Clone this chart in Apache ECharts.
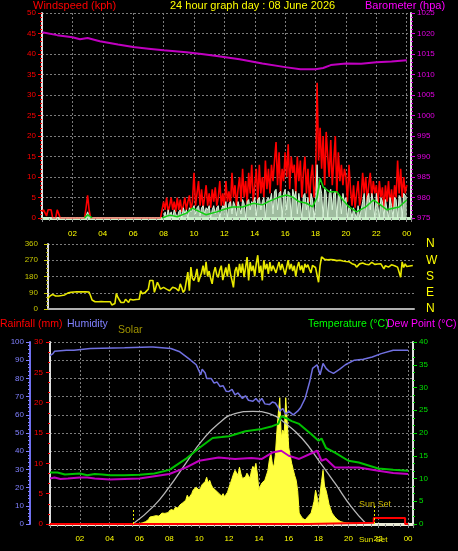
<!DOCTYPE html>
<html><head><meta charset="utf-8">
<script src="https://cdn.jsdelivr.net/npm/echarts@6/dist/echarts.min.js"></script>
<style>html,body{margin:0;padding:0;background:#000;}#c{width:458px;height:551px;}</style>
</head><body><div id="c"></div>
<script>
// ---------- data ----------
const titleText = '24 hour graph day : 08 June 2026';
const hourTicks = [2,4,6,8,10,12,14,16,18,20,22,24];
const hourLabels = ['02','04','06','08','10','12','14','16','18','20','22','00'];
const compassTicks = [0,90,180,270,360];
const compassLabels = ['N','E','S','W','N'];
const sampleStep = 0.1; // hours between samples of the sampled series

// wind gust (kph), every 0.1 h from 00:00
const gust = [
 1.5,2,2,0.5,2,2,2,0,0,0,
 2,1,0,0,0,0,0,0,0,0,
 0,0,0,0,0,0,0,0,0,2.5,
 5.5,2,0,0,0,0,0,0,0,0,
 0,0,0,0,0,0,0,0,0,0,
 0,0,0,0,0,0,0,0,0,0,
 0,0,0,0,0,0,0,0,0,0,
 0,0,0,0,0,0,0,0,0,2,
 4,2,5,1.5,3,5,2,4,1.5,5,
 2,4.5,1.5,3,5,2,4,5.5,2,4,
 11,3,6,9,3,7,2.5,5,8,3,
 6,2.5,7,4,7.5,3,5,9,3,6,
 2.5,9,4,6.5,3,11,5,8,3,7,
 10,4,12,5,9,3.5,11,6,13,4,
 8,12,4,13,6,10,5,14,7,12,
 6,13,9,14,18.5,8,16,6,12,9,
 16,10,18,7,15,11,13,6,15,9,
 14,5,11,15,6,12,4,10,13,5,
 8,33,14,22,12,20,8,21,15,10,
 19,8,14,20,6,16,9,13,8,12,
 10,4,13,7,3,8,2.5,6,9,3,
 5,11,6,10,4,8,11,5,9,6,
 8,3,9,5,7.5,2,8,4,9,3,
 7,2.5,8,5,14,6,12,5,10,6,
 8
];
// wind speed (kph), every 0.1 h from 00:00
const windSpeed = [
 0,0,0,0,0,0,0,0,0,0,
 0,0,0,0,0,0,0,0,0,0,
 0,0,0,0,0,0,0,0,0,0.5,
 1.5,0.5,0,0,0,0,0,0,0,0,
 0,0,0,0,0,0,0,0,0,0,
 0,0,0,0,0,0,0,0,0,0,
 0,0,0,0,0,0,0,0,0,0,
 0,0,0,0,0,0,0,0,0,0,
 0,1.5,0,2,0.5,1.5,0,2,1,0,
 1.5,2,0,2.5,1,2,0,2.5,1.5,2,
 3,1,2.5,3,0.5,2.5,3,1,2.5,2,
 3,0,2,3,1,2.5,3,0,2,3,
 2.5,4,0,3.5,4,1,4,3,0.5,4,
 4,1,4.5,3.5,0,4,4.5,2,4,3.5,
 5,0.5,4.5,5,2,4,5,0,4.5,5,
 4,6,1,6.5,7,2,6,6.5,0,6,
 7,2,6.5,6,0,7,5,6.5,1,6,
 6,0,5.5,6,2,5,0,6,4.5,0,
 3,13,4,8,6,0,7.5,6,0,6,
 7,2,6,6.5,0,6,5,1,6,4,
 5,0,3,2,0,2.5,1,0,3,0,
 2,4,6,0,5,6,2,6,4,0,
 6,3,0,5,4,0,4.5,2,0,5,
 3,0,5,4.5,0,5.5,5,0,6,5.5,
 5
];
// average wind speed (kph)
const windAvgTimes  = [2.8,3.0,3.3,5.0,7.9,8.4,8.9,9.5,9.9,10.4,10.8,11.5,11.9,12.5,13.2,13.9,14.5,14.9,15.6,16.1,16.5,16.9,17.4,17.8,18.1,18.3,18.5,18.9,19.4,19.8,20.2,20.7,21.3,21.8,22.2,22.7,23.1,23.5,24.0];
const windAvgValues = [0,0.8,0,null,0,0.7,0.3,1.2,2.4,1.5,0.8,1.5,2,2.7,2.7,3.6,3.2,4,5.1,5.6,5.1,4,3.6,2.7,5,9.7,7.6,6.4,6.4,4.4,2.7,1.5,2.7,4.4,3.4,2,2.4,2.7,4.4];
// barometer (hPa)
const baroTimes  = [0,1,2,2.5,3,3.8,5,6,7,8,9.5,10.5,11.5,13,14.5,16,17,18,18.5,19,20,21,22,23,24];
const baroValues = [1020.3,1019.6,1019.1,1018.6,1018.9,1018.1,1017.3,1016.7,1016.3,1015.9,1015.4,1015.0,1014.5,1013.7,1012.7,1011.8,1011.3,1011.3,1011.6,1012.3,1012.7,1012.6,1013.0,1013.2,1013.5];
// wind direction (degrees), every 0.1 h from 00:00
const windDir = [
 58,70,80,81,76,72,70,72,74,75,
 75,78,85,88,90,92,93,94,95,95,
 95,95,95,95,95,95,95,94,73,50,
 40,40,42,40,40,41,40,40,40,40,
 40,40,22,25,30,86,64,50,36,45,
 36,54,44,36,54,52,50,54,53,55,
 54,101,85,81,92,95,110,158,160,158,
 92,120,148,130,110,115,120,129,110,105,
 101,105,120,110,115,112,100,139,118,92,
 105,95,204,101,232,170,158,180,222,150,
 176,200,240,190,261,180,210,170,139,200,
 232,190,176,215,240,160,195,230,180,250,
 195,160,120,210,232,180,250,200,251,176,
 230,288,158,260,210,240,180,250,298,200,
 240,158,270,220,250,195,260,210,240,251,
 200,232,260,215,250,241,190,230,270,220,
 250,210,240,180,232,260,215,241,200,250,
 230,245,220,200,241,250,230,235,148,240,
 288,280,275,278,272,270,274,268,272,270,
 268,265,270,262,266,261,263,258,262,255,
 251,255,245,232,240,250,261,255,250,248,
 252,245,255,258,250,247,253,249,255,250,
 251,222,240,245,232,238,245,250,240,235,
 232,240,176,261,230,250,235,245,238,241,
 241
];
// humidity (%)
const humTimes  = [0,0.2,0.3,1.1,1.6,2.7,5,6.7,6.8,6.9,8.1,8.7,9.3,9.8,10.1,10.2,10.4,10.5,10.6,10.8,11.0,11.2,11.4,11.6,11.8,12.0,12.2,12.4,12.6,12.9,13.1,13.3,13.6,13.8,14.0,14.2,14.4,14.7,14.9,15.1,15.3,15.4,15.6,15.8,16.0,16.1,16.3,16.4,16.6,16.8,17.1,17.4,17.6,17.9,18.1,18.3,18.5,18.7,19.0,19.4,19.8,20.4,21.0,21.6,22.2,23.0,23.9,24];
const humValues = [92.5,93.6,94.9,95.5,95.5,96.4,96.8,97.3,98,97.3,96.4,94.6,90.9,87.5,82,85,83,80,79.3,80,77.4,78,75.5,76,73,72.8,74,71,72,69,70.5,68,67.4,69,67,69,66,65.6,67,66.5,64,62,63.5,60.3,62,63,60,60.3,62,64,69,78,85.5,87.5,82,88.2,85.5,84,82.8,85,87.5,90,90.5,91.8,93.6,95.5,95.5,95.5];
// temperature (°C)
const tempTimes  = [0,0.5,1.0,1.5,2,2.5,3,3.5,4,5,6,7,8,9.1,10,10.9,11.5,12,13.1,14.2,14.9,15.3,15.5,15.8,16.2,16.7,17.5,18,18.2,18.5,19.1,20,20.7,22,23,24];
const tempValues = [11.3,11.3,10.9,11.0,11.1,10.7,11.0,10.9,10.7,10.7,10.8,11.1,11.9,14.3,16.7,18.9,19.1,19.3,20.4,20.9,21.5,22.0,23.7,23.3,22.6,22.0,19.8,18.3,18.8,16.7,15.7,13.9,13.5,12.2,11.9,11.7];
// dew point (°C)
const dewTimes  = [0,0.3,0.7,1.2,2,2.5,3,4,5,6,7,8,9.1,10,11.3,12.4,13.5,14.2,14.9,15.5,16,16.7,17.5,17.9,18.2,18.5,19.1,20,20.7,22,23,24];
const dewValues = [10.0,10.2,9.9,10.0,10.2,10.2,10.0,9.8,9.9,10.0,10.5,11.0,12.4,13.9,14.6,14.3,14.5,14.3,15.7,16.1,15.0,14.3,15.5,16.1,13.9,14.3,12.4,12.4,12.4,11.7,11.2,11.0];
// solar radiation (W/m²), every 0.1 h from 06:00
const solarStart = 6.0;
const solar = [
 3,5,8,10,15,20,30,46,40,50,
 45,55,60,52,65,72,60,70,80,75,
 85,95,105,90,110,120,105,125,115,140,
 135,157,190,170,160,200,225,215,243,230,
 223,240,260,250,280,308,270,289,260,240,
 235,223,210,203,190,185,200,180,177,210,
 243,270,300,330,354,340,320,374,330,300,
 289,310,335,320,300,350,380,360,400,330,
 223,250,270,260,289,300,350,420,466,400,
 374,450,600,728,833,571,620,597,833,846,
 505,450,400,360,320,289,220,72,60,40,
 30,26,35,50,60,72,110,150,223,180,
 112,200,280,354,250,223,180,130,100,72,
 60,45,35,26,20,15,12,10,8,8,
 7,6,7,5,3,2,0
];
// theoretical maximum solar (W/m²)
const solarMaxTimes  = [5.55,6.9,8,9.1,10.2,11.3,12.4,13.6,14.7,15.8,16.9,18,19.1,20.2,21.2];
const solarMaxValues = [0,113,245,400,551,663,728,743,728,663,564,420,269,113,0];
// rainfall (mm)
const rainTimes  = [0,17.3,17.3,21.7,21.7,23.8,23.8,24];
const rainValues = [0,0,0.2,0.2,1.0,1.0,0,0];
const sunriseHour = 5.6, sunsetHour = 21.7;

// ---------- helpers ----------
const pairs = (t, v) => t.map((x, i) => [x, v[i]]);
const sampled = (start, step, v) => v.map((y, i) => [Math.round((start + i * step) * 100) / 100, y]);
const FONT = 'Liberation Sans';
const grid = {color: '#7c7c7c', type: [2, 2], width: 1};
function hourLabel(v) {
  const i = hourTicks.indexOf(Math.round(v * 100) / 100);
  return i >= 0 ? hourLabels[i] : '';
}
const plain = v => String(v);
function hourAxis(gi, max, opts) {
  return Object.assign({
    type: 'value', gridIndex: gi, min: 0, max: max, interval: 2,
    splitLine: {show: true, lineStyle: grid},
    axisLine: {show: true, lineStyle: {color: '#c8f0c8', width: 3}},
    axisTick: {show: true, length: 4, lineStyle: {color: '#909090'}},
    minorTick: {show: true, splitNumber: 4, length: 3, lineStyle: {color: '#909090'}},
    axisLabel: {show: true, formatter: hourLabel, color: '#ffff00', fontSize: 8, fontFamily: FONT, margin: 8}
  }, opts || {});
}
function yAx(gi, pos, min, max, interval, color, extra) {
  return Object.assign({
    type: 'value', gridIndex: gi, position: pos, min, max, interval,
    axisLine: {show: true, lineStyle: {color: '#e0e0e0', width: 2}},
    axisTick: {show: true, length: 4, lineStyle: {color}},
    minorTick: {show: true, splitNumber: 5, length: 2, lineStyle: {color}},
    splitLine: {show: false},
    axisLabel: {color, fontSize: 8, fontFamily: FONT, margin: 6, formatter: plain}
  }, extra || {});
}
const line = (o) => Object.assign({type: 'line', showSymbol: false, symbol: 'none', animation: false}, o);

const option = {
  backgroundColor: '#000',
  animation: false,
  grid: [
    {left: 42, top: 13, width: 369, height: 205},
    {left: 48, top: 244, width: 366, height: 65},
    {left: 50, top: 342, width: 363, height: 182}
  ],
  xAxis: [
    hourAxis(0, 24.28, {offset: 4}),
    hourAxis(1, 24.08, {
      axisLine: {show: true, lineStyle: {color: '#b0b0b0', width: 2}},
      axisTick: {show: false}, minorTick: {show: false}, axisLabel: {show: false}, splitLine: {show: false}
    }),
    hourAxis(2, 24.33, {offset: 3, axisLine: {show: true, lineStyle: {color: '#ececd8', width: 3}}})
  ],
  yAxis: [
    yAx(0, 'left', 0, 50, 5, '#ff0000', {splitLine: {show: true, lineStyle: grid}}),
    yAx(0, 'right', 975, 1025, 5, '#e000e0'),
    yAx(1, 'left', 0, 360, 90, '#c8c800', {splitLine: {show: true, lineStyle: grid}, minorTick: {show: true, splitNumber: 4, length: 2, lineStyle: {color: '#a0a000'}}, axisLabel: {color: '#c8c800', fontSize: 8, fontFamily: FONT, margin: 10, formatter: plain}}),
    yAx(1, 'right', 0, 360, 90, '#ffff00', {
      axisLine: {show: false}, axisTick: {show: false}, minorTick: {show: false},
      axisLabel: {color: '#ffff00', fontSize: 12, fontFamily: FONT, margin: 12,
        formatter: v => { const i = compassTicks.indexOf(v); return i >= 0 ? compassLabels[i] : ''; }}
    }),
    yAx(2, 'left', 0, 30, 5, '#ff0000', {minorTick: {show: true, splitNumber: 3, length: 2, lineStyle: {color: '#ff0000'}}, axisLabel: {color: '#ff0000', fontSize: 8, fontFamily: FONT, margin: 7, formatter: plain}}),
    yAx(2, 'left', 0, 100, 10, '#8080ff', {offset: 20, axisLine: {show: true, lineStyle: {color: '#7070f0', width: 2}},
      splitLine: {show: true, lineStyle: grid}, axisLabel: {color: '#8080ff', fontSize: 8, fontFamily: FONT, margin: 6, formatter: plain}}),
    yAx(2, 'right', 0, 40, 5, '#00e000', {minorTick: {show: true, splitNumber: 3, length: 2, lineStyle: {color: '#00e000'}}}),
    {type: 'value', gridIndex: 2, min: 0, max: 1200, show: false}
  ],
  series: [
    // top panel
    line({name: 'Gust', xAxisIndex: 0, yAxisIndex: 0, data: sampled(0, sampleStep, gust), lineStyle: {color: '#ff0000', width: 1.6}, z: 3}),
    line({name: 'Wind', xAxisIndex: 0, yAxisIndex: 0, data: sampled(0, sampleStep, windSpeed), lineStyle: {color: '#d8f4d8', width: 1}, areaStyle: {color: '#c8ecc8', opacity: 0.8}, z: 4}),
    line({name: 'Avg', xAxisIndex: 0, yAxisIndex: 0, data: pairs(windAvgTimes, windAvgValues), connectNulls: false, lineStyle: {color: '#10d010', width: 1.5}, z: 5}),
    line({name: 'Baro', xAxisIndex: 0, yAxisIndex: 1, data: pairs(baroTimes, baroValues), lineStyle: {color: '#c000c0', width: 2}, z: 6}),
    // middle panel
    line({name: 'Dir', xAxisIndex: 1, yAxisIndex: 2, data: sampled(0, sampleStep, windDir), lineStyle: {color: '#e8e800', width: 1.6}}),
    // bottom panel
    line({name: 'Solar', xAxisIndex: 2, yAxisIndex: 7, data: sampled(solarStart, sampleStep, solar), lineStyle: {color: '#ffff30', width: 1}, areaStyle: {color: '#ffff40', opacity: 1}, z: 2,
      markLine: {silent: true, symbol: 'none', label: {show: false}, lineStyle: {color: '#e8e800', type: [2, 2], width: 1},
        data: [[{coord: [sunriseHour, 0]}, {coord: [sunriseHour, 105]}], [{coord: [sunsetHour, 0]}, {coord: [sunsetHour, 125]}]]}}),
    line({name: 'SolarMax', xAxisIndex: 2, yAxisIndex: 7, data: pairs(solarMaxTimes, solarMaxValues), smooth: true, lineStyle: {color: '#b8b8b8', width: 1.3}, z: 3}),
    line({name: 'Rain', xAxisIndex: 2, yAxisIndex: 4, data: pairs(rainTimes, rainValues), lineStyle: {color: '#ff0000', width: 2}, z: 4}),
    line({name: 'Dew', xAxisIndex: 2, yAxisIndex: 6, data: pairs(dewTimes, dewValues), lineStyle: {color: '#c000c0', width: 2}, z: 5}),
    line({name: 'Temp', xAxisIndex: 2, yAxisIndex: 6, data: pairs(tempTimes, tempValues), lineStyle: {color: '#00c000', width: 2}, z: 6}),
    line({name: 'Hum', xAxisIndex: 2, yAxisIndex: 5, data: pairs(humTimes, humValues), lineStyle: {color: '#7070e0', width: 1.5}, z: 7})
  ],
  graphic: [
    {type: 'text', left: 33, top: 0, style: {text: 'Windspeed (kph)', fill: '#ff0000', font: '11px "Liberation Sans"'}},
    {type: 'text', left: 170, top: 0, style: {text: titleText, fill: '#ffff00', font: '11px "Liberation Sans"'}},
    {type: 'text', left: 365, top: 0, style: {text: 'Barometer (hpa)', fill: '#ff00ff', font: '11px "Liberation Sans"'}},
    {type: 'text', left: 0, top: 319, style: {text: 'Rainfall (mm)', fill: '#ff0000', font: '10.5px "Liberation Sans"'}},
    {type: 'text', left: 67, top: 319, style: {text: 'Humidity', fill: '#8080ff', font: '10.5px "Liberation Sans"'}},
    {type: 'text', left: 118, top: 325, style: {text: 'Solar', fill: '#a09400', font: '10.5px "Liberation Sans"'}},
    {type: 'text', left: 308, top: 319, style: {text: 'Temperature (°C)', fill: '#00ff00', font: '10.5px "Liberation Sans"'}},
    {type: 'text', left: 387, top: 319, style: {text: 'Dew Point (°C)', fill: '#ff00ff', font: '10.5px "Liberation Sans"'}},
    {type: 'text', left: 359, top: 500, style: {text: 'Sun Set', fill: '#d0bc00', font: '9px "Liberation Sans"'}},
    {type: 'text', left: 359, top: 536, style: {text: 'Sun Set', fill: '#e8e800', font: '8px "Liberation Sans"'}}
  ]
};
const chart = echarts.init(document.getElementById('c'), null, {renderer: 'canvas'});
chart.setOption(option);
</script></body></html>
